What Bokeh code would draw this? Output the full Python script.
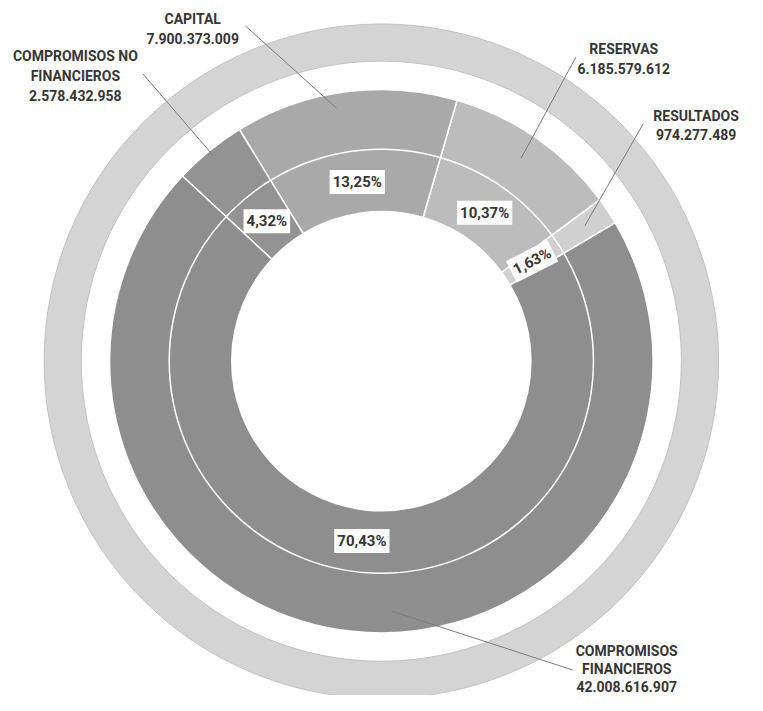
import math
from bokeh.plotting import figure
from bokeh.models import ColumnDataSource, Range1d
from bokeh.core.properties import value
from bokeh.embed import file_html
from bokeh.resources import INLINE

# ---------------- data ----------------
categories = ["RESULTADOS", "RESERVAS", "CAPITAL",
              "COMPROMISOS NO\nFINANCIEROS", "COMPROMISOS\nFINANCIEROS"]
amounts = [974277489, 6185579612, 7900373009, 2578432958, 42008616907]
pct_labels = ["1,63%", "10,37%", "13,25%", "4,32%", "70,43%"]

# ---------------- style / layout ----------------
colors = ["#d0d0d0", "#bcbcbc", "#a9a9a9", "#939393", "#8e8e8e"]
ring_color = "#d4d4d4"
text_color = "#363636"
FONT = "Roboto"
H = 711  # reference height, data y = H - image y
CX, CY = 389, H - 366
START_DEG = 30.6
R_HOLE, R_OUT, R_LINE = 153, 278, 217
RING_IN, RING_OUT = 307, 345
R_PCT = 185
pct_rot = [27, 0, 0, 0, 0]
LINE_GAP = 19.5
# label layout: text centre x, first-line y (image px), leader inner (radius, angle offset), leader outer (image px)
label_layout = [
    dict(tx=711, ty=115, gap=19.5, r_in=250, a_off=0.1, out=(657, 123)),
    dict(tx=637, ty=47, gap=19.5, r_in=252, a_off=0.3, out=(588, 55)),
    dict(tx=196, ty=16, gap=19.5, r_in=263, a_off=2.4, out=(250, 23)),
    dict(tx=76, ty=54, gap=20.0, r_in=272, a_off=0.0, out=(145, 72)),
    dict(tx=640, ty=662, gap=18.5, r_in=256, a_off=8.6, out=(585, 682)),
]

total = sum(amounts)
starts, ends, mids = [], [], []
acc = START_DEG
for v in amounts:
    span = 360.0 * v / total
    starts.append(math.radians(acc))
    ends.append(math.radians(acc + span))
    mids.append(acc + span / 2)
    acc += span

p = figure(width=747, height=695, x_range=Range1d(-0.6, 763.6), y_range=Range1d(3, 714),
           output_backend="svg", toolbar_location=None, min_border=0)
p.axis.visible = False
p.grid.visible = False
p.outline_line_color = None
p.background_fill_color = "white"

# outer light ring
p.annulus(x=CX, y=CY, inner_radius=RING_IN, outer_radius=RING_OUT,
          fill_color=ring_color, line_color="#c2c2c2", line_width=1)

src = ColumnDataSource(dict(cat=categories, amt=amounts, start=starts, end=ends, color=colors))
p.annular_wedge(x=CX, y=CY, inner_radius=R_HOLE, outer_radius=R_OUT,
                start_angle="start", end_angle="end", direction="anticlock",
                fill_color="color", line_color="white", line_width=1.5, source=src)

# thin white inner circle
p.circle(x=CX, y=CY, radius=R_LINE, fill_color=None, line_color="white", line_width=1.5)

# leader lines
x0, y0, x1, y1 = [], [], [], []
for m, lay in zip(mids, label_layout):
    a = math.radians(m + lay["a_off"])
    x0.append(CX + lay["r_in"] * math.cos(a))
    y0.append(CY + lay["r_in"] * math.sin(a))
    x1.append(lay["out"][0])
    y1.append(H - lay["out"][1])
p.segment(x0=x0, y0=y0, x1=x1, y1=y1, line_color="#7c7c7c", line_width=1)

# percentage labels
px = [CX + R_PCT * math.cos(math.radians(m)) for m in mids]
py = [CY + R_PCT * math.sin(math.radians(m)) for m in mids]
psrc = ColumnDataSource(dict(x=px, y=py, t=pct_labels, ang=[math.radians(a) for a in pct_rot]))
p.text(x="x", y="y", text="t", angle="ang", source=psrc,
       text_font=value(FONT), text_font_style="bold", text_font_size="15px",
       text_color=text_color, text_align="center", text_baseline="middle",
       background_fill_color="white", padding=3)

# outside labels
tx, ty, tt = [], [], []
for cat, v, lay in zip(categories, amounts, label_layout):
    lines = cat.split("\n") + ["{:,}".format(v).replace(",", ".")]
    for i, ln in enumerate(lines):
        tx.append(lay["tx"])
        ty.append(H - (lay["ty"] + i * lay["gap"]))
        tt.append(ln)
p.text(x=tx, y=ty, text=tt, text_font=value(FONT), text_font_style="bold",
       text_font_size="14px", text_color=text_color, text_align="center",
       text_baseline="middle")

open("out.html", "w").write(file_html(p, INLINE))
